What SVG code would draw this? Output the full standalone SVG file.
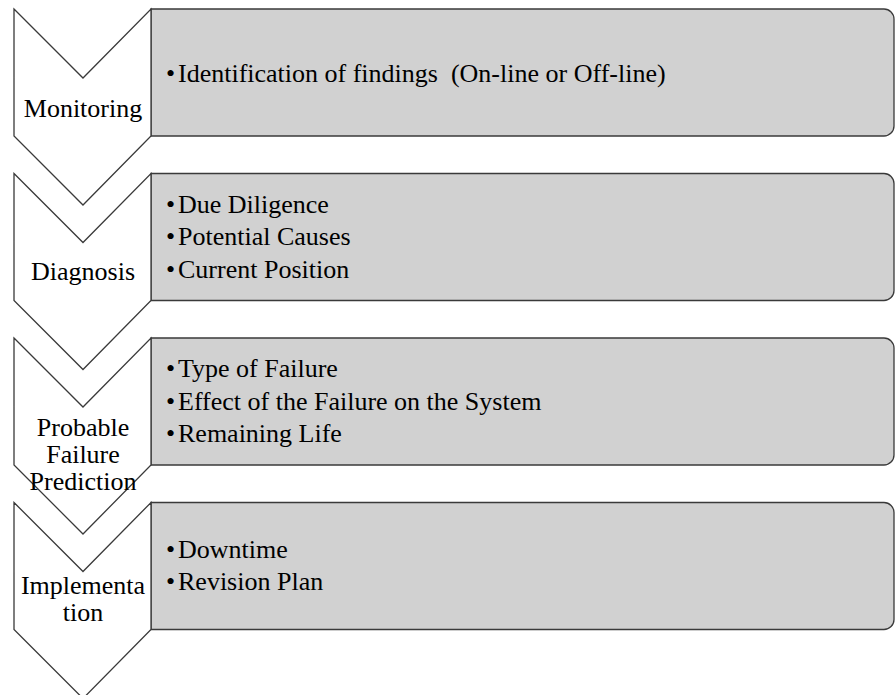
<svg xmlns="http://www.w3.org/2000/svg" width="895" height="695" viewBox="0 0 895 695">
<defs>
<style type="text/css">
.chev{fill:#ffffff;stroke:#3a3a3a;stroke-width:1.3;stroke-linejoin:miter}
.box{fill:#d1d1d1;stroke:#3a3a3a;stroke-width:1.3}
.t{font-family:'Liberation Serif','Times New Roman',serif;font-size:26px;fill:#000000}
.lbl{text-anchor:middle}
</style>
</defs>
<rect width="895" height="695" fill="#ffffff"/>
<g id="step1">
<path class="box" d="M151,9 H884 A10,10 0 0 1 894,19 V126 A10,10 0 0 1 884,136 H151 Z"/>
<polygon class="chev" points="14,9 83,78 151,9 151,136 83,205 14,136"/>
<text class="t lbl" x="83" y="117">Monitoring</text>
<text class="t" x="166" y="82" xml:space="preserve">•<tspan x="178">Identification of findings  (On-line or Off-line)</tspan></text>
</g>
<g id="step2">
<path class="box" d="M151,173.5 H884 A10,10 0 0 1 894,183.5 V290.5 A10,10 0 0 1 884,300.5 H151 Z"/>
<polygon class="chev" points="14,173.5 83,242.5 151,173.5 151,300.5 83,369.5 14,300.5"/>
<text class="t lbl" x="83" y="280">Diagnosis</text>
<text class="t" x="166" y="213">•<tspan x="178">Due Diligence</tspan></text>
<text class="t" x="166" y="245">•<tspan x="178">Potential Causes</tspan></text>
<text class="t" x="166" y="278">•<tspan x="178">Current Position</tspan></text>
</g>
<g id="step3">
<path class="box" d="M151,338 H884 A10,10 0 0 1 894,348 V455 A10,10 0 0 1 884,465 H151 Z"/>
<polygon class="chev" points="14,338 83,407 151,338 151,465 83,534 14,465"/>
<text class="t lbl" x="83" y="436">Probable</text>
<text class="t lbl" x="83" y="463">Failure</text>
<text class="t lbl" x="83" y="490">Prediction</text>
<text class="t" x="166" y="377">•<tspan x="178">Type of Failure</tspan></text>
<text class="t" x="166" y="410">•<tspan x="178">Effect of the Failure on the System</tspan></text>
<text class="t" x="166" y="442">•<tspan x="178">Remaining Life</tspan></text>
</g>
<g id="step4">
<path class="box" d="M151,502.5 H884 A10,10 0 0 1 894,512.5 V619.5 A10,10 0 0 1 884,629.5 H151 Z"/>
<polygon class="chev" points="14,502.5 83,571.5 151,502.5 151,629.5 83,698.5 14,629.5"/>
<text class="t lbl" x="83" y="594">Implementa</text>
<text class="t lbl" x="83" y="621">tion</text>
<text class="t" x="166" y="558">•<tspan x="178">Downtime</tspan></text>
<text class="t" x="166" y="590">•<tspan x="178">Revision Plan</tspan></text>
</g>
<g id="connectors"></g>
</svg>
